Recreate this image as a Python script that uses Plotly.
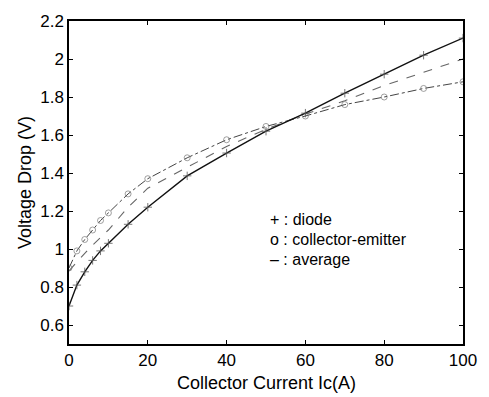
import plotly.graph_objects as go

# Collector current (A)
ic_diode = [0, 2, 4, 6, 8, 10, 15, 20, 30, 40, 50, 60, 70, 80, 90, 100]
v_diode = [0.70, 0.81, 0.88, 0.94, 0.99, 1.03, 1.13, 1.22, 1.385, 1.505, 1.62, 1.715, 1.82, 1.92, 2.02, 2.11]

ic_ce = [0, 2, 4, 6, 8, 10, 15, 20, 30, 40, 50, 60, 70, 80, 90, 100]
v_ce = [0.90, 0.99, 1.05, 1.10, 1.15, 1.19, 1.29, 1.37, 1.48, 1.575, 1.645, 1.70, 1.76, 1.80, 1.845, 1.88]

ic_avg = [0, 5, 10, 15, 20, 30, 40, 50, 60, 70, 80, 90, 100]
v_avg = [0.885, 1.00, 1.10, 1.22, 1.32, 1.43, 1.54, 1.63, 1.71, 1.78, 1.86, 1.93, 2.00]

legend_lines = ["+ : diode", "o : collector-emitter", "– : average"]
x_title = "Collector Current Ic(A)"
y_title = "Voltage Drop (V)"

font = "Liberation Sans, Arial, sans-serif"

fig = go.Figure()
fig.add_trace(go.Scatter(x=ic_avg, y=v_avg, mode="lines",
                         line=dict(color="#666666", width=1.1, dash="dash"), showlegend=False))
fig.add_trace(go.Scatter(x=ic_ce, y=v_ce, mode="lines+markers",
                         line=dict(color="#444444", width=1.0, dash="dashdot"),
                         marker=dict(symbol="circle-open", size=6, color="#777777", line=dict(width=0.7)),
                         showlegend=False))
fig.add_trace(go.Scatter(x=ic_diode, y=v_diode, mode="lines+markers",
                         line=dict(color="#111111", width=1.4),
                         marker=dict(symbol="cross-thin-open", size=6, color="#555555", line=dict(width=0.8)),
                         showlegend=False))

for i, t in enumerate(legend_lines):
    fig.add_annotation(x=0.505, y=0.385 - i * 0.062, xref="paper", yref="paper",
                       text=t, showarrow=False, xanchor="left", yanchor="middle",
                       font=dict(family=font, size=16, color="black"))

fig.add_annotation(x=0.5, y=-0.122, xref="paper", yref="paper", text=x_title, showarrow=False,
                   xanchor="center", yanchor="middle", font=dict(family=font, size=18, color="black"))

axis_common = dict(showgrid=False, zeroline=False, showline=True, linecolor="black", linewidth=1.5,
                   mirror="ticks", ticks="inside", ticklen=4, tickcolor="black",
                   tickfont=dict(family=font, size=17, color="black"))

fig.update_layout(
    width=489, height=397,
    margin=dict(l=69, r=16, t=16, b=53),
    paper_bgcolor="white", plot_bgcolor="white",
    xaxis=dict(range=[0, 100], tickvals=[0, 20, 40, 60, 80, 100], **axis_common),
    yaxis=dict(range=[0.5, 2.2], tickvals=[0.6, 0.8, 1, 1.2, 1.4, 1.6, 1.8, 2, 2.2],
               ticktext=["0.6", "0.8", "1", "1.2", "1.4", "1.6", "1.8", "2", "2.2"],
               title=dict(text=y_title, font=dict(family=font, size=18, color="black"), standoff=4),
               **axis_common),
)

fig.write_html("out.html")
